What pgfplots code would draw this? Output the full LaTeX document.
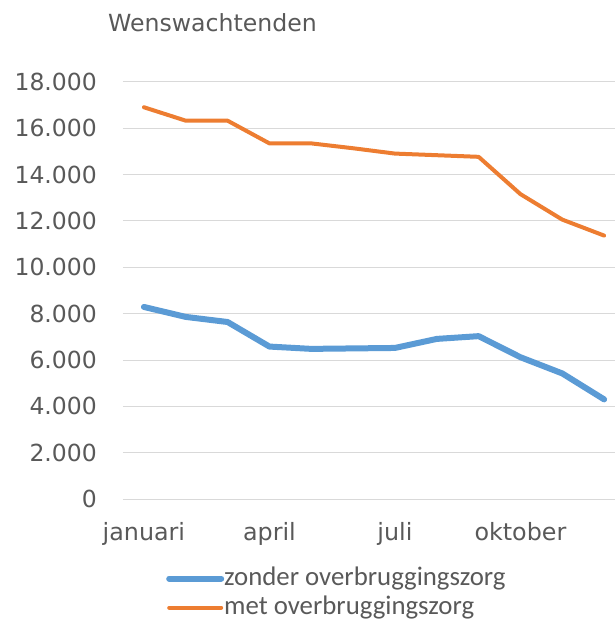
\documentclass[border=0pt]{standalone}
\usepackage{fontspec}
\usepackage{pgfplots}
\pgfplotsset{compat=1.18}
\setmainfont{DejaVu Sans}
\newfontfamily\dejavu{DejaVu Sans}
\newfontfamily\carlito{Carlito}
\definecolor{cblue}{HTML}{5B9BD5}
\definecolor{corange}{HTML}{ED7D31}
\definecolor{cgrid}{HTML}{D9D9D9}
\definecolor{ctext}{HTML}{595959}
\begin{document}
\begin{tikzpicture}[x=1pt,y=1pt]
\useasboundingbox (0,0) rectangle (615,622);
\node[anchor=base west, inner sep=0pt, text=ctext, font=\dejavu\fontsize{23.6}{23.6}\selectfont] at (108,590) {Wenswachtenden};
\begin{axis}[
  at={(123pt,123pt)}, anchor=south west,
  scale only axis,
  width=492pt, height=417pt,
  xmin=-0.5, xmax=11.26,
  ymin=0, ymax=18000,
  scaled y ticks=false,
  ytick={0,2000,...,18000},
  yticklabels={0,2.000,4.000,6.000,8.000,10.000,12.000,14.000,16.000,18.000},
  xtick={0,3,6,9},
  xticklabels={januari,april,juli,oktober},
  ymajorgrids,
  major grid style={cgrid, line width=1pt},
  axis line style={draw=none},
  major tick length=0pt,
  yticklabel style={anchor=east, inner sep=0pt, xshift=-26pt, text=ctext, font=\dejavu\fontsize{23.5}{23.5}\selectfont},
  xticklabel style={anchor=base, inner sep=0pt, yshift=-41pt, text=ctext, font=\dejavu\fontsize{23.8}{23.8}\selectfont},
  legend style={at={(0.0874,-0.158)}, anchor=north west, draw=none, fill=none,
    inner sep=0pt, row sep=0pt,
    font=\carlito\fontsize{26.8}{28}\selectfont, text=ctext,
    nodes={inner sep=0pt, text height=20pt, text depth=9pt}},
  legend cell align=left,
  legend image code/.code={\draw[#1] (2pt,1pt) -- (54pt,1pt);},
]
\addplot[cblue, line width=6pt, line join=round, line cap=round] coordinates {
  (0,8290) (1,7860) (2,7640) (3,6580) (4,6480) (5,6500) (6,6520) (7,6910) (8,7030) (9,6120) (10,5420) (11,4300)};
\addlegendentry{zonder overbruggingszorg}
\addplot[corange, line width=4pt, line join=round, line cap=round] coordinates {
  (0,16910) (1,16330) (2,16330) (3,15350) (4,15350) (5,15140) (6,14910) (7,14840) (8,14770) (9,13160) (10,12060) (11,11370)};
\addlegendentry{met overbruggingszorg}
\end{axis}
\end{tikzpicture}
\end{document}
